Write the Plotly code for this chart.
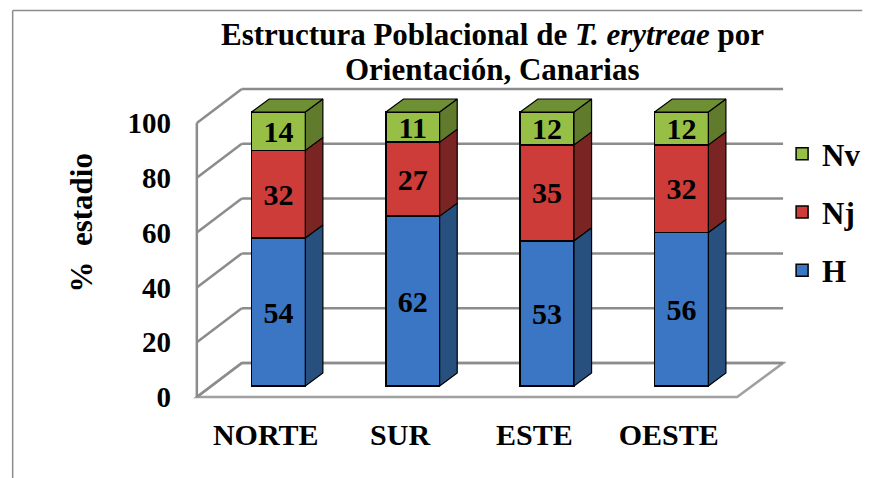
import plotly.graph_objects as go

# ---------------- data ----------------
categories = ["NORTE", "SUR", "ESTE", "OESTE"]
h_vals = [54, 62, 53, 56]
nj_vals = [32, 27, 35, 32]
nv_vals = [14, 11, 12, 12]
y_ticks = [0, 20, 40, 60, 80, 100]

# ---------------- geometry (page pixels of the 878x478 window) ----------------
PAGE_OFF = 8                            # default body margin of the html page
FIG_W, FIG_H = 878 - PAGE_OFF, 478 - PAGE_OFF
RIGHT_EDGE, BOTTOM_EDGE = PAGE_OFF + FIG_W, PAGE_OFF + FIG_H
L, R, T, B = 190, 800, 85, 400          # plot area (page px)
BAR0_PX, CAT_PX = 280.5, 137.5          # first bar centre, spacing
BASE_PY, PPU = 386, 2.74                # bar baseline, px per unit
BAR_W_PX = 55
DEPTH_PX = (18, 13)                     # bar depth (x right, y up)
FRONT_LEFT, FRONT_RIGHT, FRONT_ZERO = 197, 750, 397
BACK_LEFT, BACK_RIGHT, BACK_ZERO = 243, 797, 363
LABEL_SHIFT_PX = -13

def X(px):
    return (px - BAR0_PX) / CAT_PX

def Y(py):
    return (BASE_PY - py) / PPU

def PX(px):
    return (px - L) / (R - L)

def PY(py):
    return (B - py) / (B - T)

bw = BAR_W_PX / CAT_PX
DX = DEPTH_PX[0] / CAT_PX
DY = DEPTH_PX[1] / PPU

series = [
    ("H", h_vals, "#3A76C4", "#27507F", 3),
    ("Nj", nj_vals, "#CD3C38", "#7A2423", 2),
    ("Nv", nv_vals, "#97BF46", "#5F7B2B", 1),
]
TOP_COLOR = "#6F8F35"
GRID = "#8C8C8C"
FONT = "Liberation Serif"

fig = go.Figure()
xs = list(range(len(categories)))
cum = [0] * len(categories)
side_traces = []
for name, vals, front, side, rank in series:
    fig.add_trace(go.Bar(
        x=xs, y=vals, name=name, legendgroup=name, legendrank=rank, width=bw,
        marker=dict(color=front, line=dict(color="black", width=1.5)),
        text=[str(v) for v in vals], textposition="inside",
        insidetextanchor="middle", constraintext="none", textangle=0,
        textfont=dict(family=FONT, size=30, color="black", weight="bold"),
        hoverinfo="skip",
    ))
    px_, py_ = [], []
    for i, v in enumerate(vals):
        b0, b1 = cum[i], cum[i] + v
        xr = i + bw / 2
        px_ += [xr, xr + DX, xr + DX, xr, xr, None]
        py_ += [b0, b0 + DY, b1 + DY, b1, b0, None]
        cum[i] = b1
    side_traces.append(go.Scatter(
        x=px_, y=py_, mode="lines", fill="toself", fillcolor=side,
        line=dict(color="black", width=1.2), showlegend=False, hoverinfo="skip",
    ))
for tr in side_traces:
    fig.add_trace(tr)

# top faces
tx, ty = [], []
for i, tot in enumerate(cum):
    xl, xr = i - bw / 2, i + bw / 2
    tx += [xl, xl + DX, xr + DX, xr, xl, None]
    ty += [tot, tot + DY, tot + DY, tot, tot, None]
fig.add_trace(go.Scatter(
    x=tx, y=ty, mode="lines", fill="toself", fillcolor=TOP_COLOR,
    line=dict(color="black", width=1.2), showlegend=False, hoverinfo="skip",
))

# ---------------- walls, floor, grid ----------------
shapes = []
floor_path = "M {} {} L {} {} L {} {} L {} {} Z".format(
    X(FRONT_LEFT), Y(FRONT_ZERO), X(FRONT_RIGHT), Y(FRONT_ZERO),
    X(BACK_RIGHT), Y(BACK_ZERO), X(BACK_LEFT), Y(BACK_ZERO))
shapes.append(dict(type="path", path=floor_path, xref="x", yref="y",
                   line=dict(color="#A0A0A0", width=2.5), fillcolor="white",
                   layer="below"))
for t in y_ticks:
    pyb = BACK_ZERO - PPU * t
    pyf = FRONT_ZERO - PPU * t
    shapes.append(dict(type="line", xref="x", yref="y",
                       x0=X(BACK_LEFT), x1=X(BACK_RIGHT), y0=Y(pyb), y1=Y(pyb),
                       line=dict(color=GRID, width=2.5), layer="below"))
    shapes.append(dict(type="line", xref="x", yref="y",
                       x0=X(FRONT_LEFT), x1=X(BACK_LEFT), y0=Y(pyf), y1=Y(pyb),
                       line=dict(color=GRID, width=2.5), layer="below"))
shapes.append(dict(type="line", xref="x", yref="y",
                   x0=X(FRONT_LEFT), x1=X(FRONT_LEFT),
                   y0=Y(FRONT_ZERO), y1=Y(FRONT_ZERO - PPU * y_ticks[-1]),
                   line=dict(color=GRID, width=2.5), layer="below"))
# outer chart frame
shapes.append(dict(type="line", xref="paper", yref="paper",
                   x0=PX(8.5), x1=PX(RIGHT_EDGE), y0=PY(10.5), y1=PY(10.5),
                   line=dict(color="#8C8C8C", width=1.5)))
shapes.append(dict(type="line", xref="paper", yref="paper",
                   x0=PX(8.5), x1=PX(8.5), y0=PY(10.5), y1=PY(BOTTOM_EDGE),
                   line=dict(color="#8C8C8C", width=1.5)))

annotations = [
    dict(text="Estructura Poblacional de <i>T. erytreae</i> por",
         xref="paper", yref="paper", x=PX(500), y=PY(35), showarrow=False,
         xanchor="center", yanchor="middle",
         font=dict(family=FONT, size=31, color="black", weight="bold")),
    dict(text="Orientación, Canarias",
         xref="paper", yref="paper", x=PX(500), y=PY(70), showarrow=False,
         xanchor="center", yanchor="middle",
         font=dict(family=FONT, size=31, color="black", weight="bold")),
    dict(text="%\u00a0\u00a0estadio", textangle=-90,
         xref="paper", yref="paper", x=PX(78), y=PY(223), showarrow=False,
         xanchor="center", yanchor="middle",
         font=dict(family=FONT, size=31, color="black", weight="bold")),
]

fig.update_layout(
    width=FIG_W, height=FIG_H,
    margin=dict(l=L - PAGE_OFF, r=RIGHT_EDGE - R, t=T - PAGE_OFF,
                b=BOTTOM_EDGE - B, pad=0),
    paper_bgcolor="white", plot_bgcolor="rgba(0,0,0,0)",
    barmode="stack", hovermode=False,
    shapes=shapes, annotations=annotations,
    xaxis=dict(range=[X(L), X(R)], showgrid=False, zeroline=False,
               showline=False, ticks="",
               tickvals=[i + LABEL_SHIFT_PX / CAT_PX for i in xs],
               ticktext=categories, ticklabelstandoff=14,
               tickfont=dict(family=FONT, size=30, color="black", weight="bold")),
    yaxis=dict(range=[Y(B), Y(T)], showgrid=False, zeroline=False,
               showline=False, ticks="",
               tickvals=[Y(FRONT_ZERO - PPU * t) for t in y_ticks],
               ticktext=[str(t) for t in y_ticks], ticklabelstandoff=18,
               tickfont=dict(family=FONT, size=29, color="black", weight="bold")),
    legend=dict(x=PX(796), y=PY(127), xanchor="left", yanchor="top",
                traceorder="grouped", tracegroupgap=15,
                bgcolor="rgba(0,0,0,0)",
                font=dict(family=FONT, size=31, color="black", weight="bold")),
    showlegend=True,
)

fig.write_html("out.html")
